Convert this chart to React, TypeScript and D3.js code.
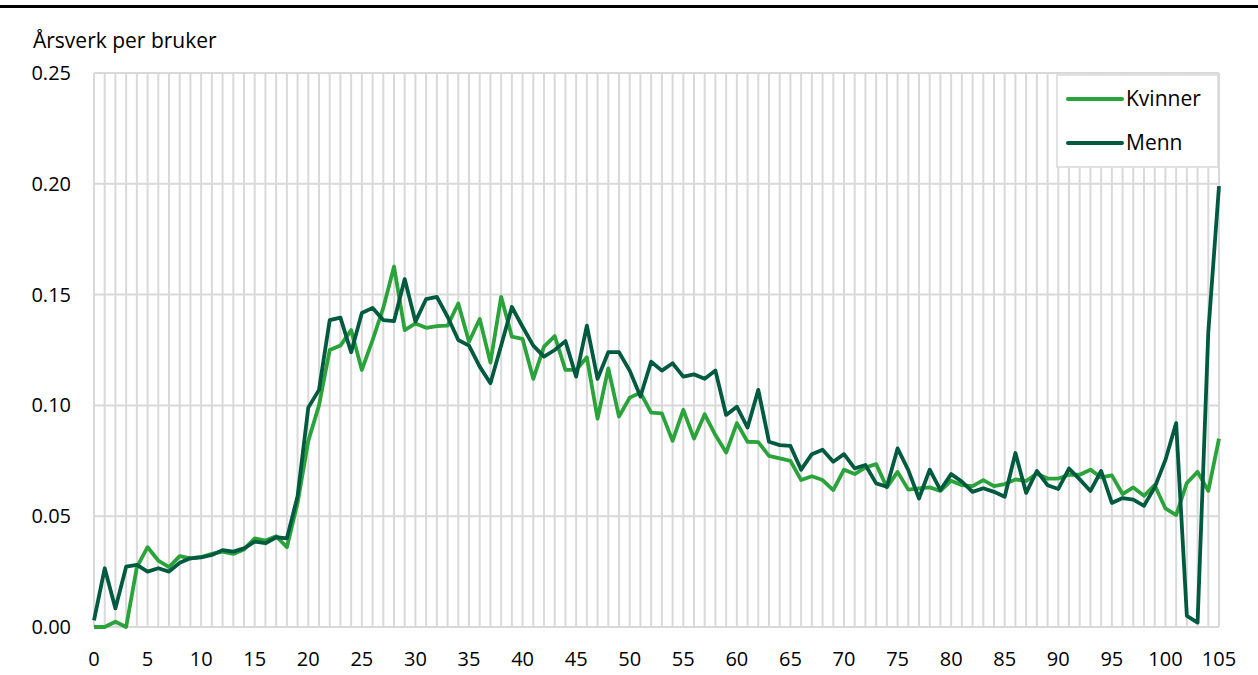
import React, { useEffect, useRef } from 'react';
import * as d3 from 'd3';

// alder 0..105
const ages: number[] = d3.range(0, 106);

const kvinner: number[] = [
    0, 0, 0.0024, 0, 0.027, 0.036, 0.030, 0.027, 0.032, 0.031,
    0.0316, 0.033, 0.034, 0.033, 0.035, 0.040, 0.039, 0.041, 0.036, 0.056,
    0.084, 0.100, 0.125, 0.127, 0.134, 0.116, 0.1295, 0.144, 0.1626, 0.134,
    0.137, 0.135, 0.1358, 0.136, 0.146, 0.1287, 0.139, 0.1193, 0.149, 0.131,
    0.130, 0.112, 0.1265, 0.1313, 0.116, 0.116, 0.1217, 0.094, 0.1167, 0.095,
    0.1035, 0.1057, 0.0967, 0.0964, 0.084, 0.098, 0.085, 0.096, 0.0866, 0.0787,
    0.092, 0.0836, 0.0834, 0.0772, 0.0761, 0.075, 0.0663, 0.068, 0.0663, 0.0618,
    0.071, 0.069, 0.072, 0.0735, 0.063, 0.070, 0.062, 0.0626, 0.063, 0.0614,
    0.066, 0.064, 0.0636, 0.0663, 0.0636, 0.0645, 0.0666, 0.0659, 0.0692, 0.067,
    0.067, 0.0687, 0.0687, 0.071, 0.0675, 0.0684, 0.060, 0.063, 0.0592, 0.064,
    0.0535, 0.0505, 0.065, 0.070, 0.0614, 0.085,
];

const menn: number[] = [
    0.003, 0.0265, 0.0084, 0.0272, 0.028, 0.025, 0.0265, 0.025, 0.029, 0.031,
    0.0314, 0.0325, 0.0347, 0.034, 0.0355, 0.0385, 0.0378, 0.0405, 0.040, 0.059,
    0.099, 0.107, 0.1385, 0.1396, 0.124, 0.1417, 0.144, 0.1385, 0.138, 0.157,
    0.1378, 0.148, 0.149, 0.140, 0.1295, 0.127, 0.1175, 0.110, 0.127, 0.1444,
    0.1355, 0.127, 0.122, 0.125, 0.129, 0.113, 0.136, 0.112, 0.124, 0.124,
    0.1157, 0.104, 0.1197, 0.1157, 0.119, 0.113, 0.114, 0.112, 0.1157, 0.0957,
    0.0994, 0.090, 0.107, 0.0836, 0.0821, 0.0817, 0.071, 0.078, 0.080, 0.0746,
    0.078, 0.0716, 0.0731, 0.0648, 0.0633, 0.0806, 0.0708, 0.058, 0.071, 0.0618,
    0.069, 0.0656, 0.061, 0.0626, 0.061, 0.0588, 0.0785, 0.0605, 0.0704, 0.064,
    0.0623, 0.0715, 0.0666, 0.0614, 0.0704, 0.056, 0.0582, 0.0575, 0.0547, 0.063,
    0.0754, 0.092, 0.005, 0.002, 0.133, 0.199,
];

const seriesNames = ['Kvinner', 'Menn'];
const seriesColors = ['#2ba33b', '#005a3f'];
const yTicks = [0, 0.05, 0.1, 0.15, 0.2, 0.25];
const xTicks = d3.range(0, 106, 5);

const W = 1258;
const H = 675;
const FONT = "'Open Sans', 'Noto Sans', sans-serif";
const FS = '20px';
const FS_BIG = '21px';

const App: React.FC = () => {
    const svgRef = useRef<SVGSVGElement>(null);

    useEffect(() => {
        if (!svgRef.current) return;
        const svg = d3.select(svgRef.current);
        svg.selectAll('*').remove();

        const x = d3.scaleLinear().domain([0, 105]).range([94, 1219]);
        const y = d3.scaleLinear().domain([0, 0.25]).range([627, 73]);

        // topplinje
        svg.append('rect')
            .attr('x', 0)
            .attr('y', 5)
            .attr('width', W)
            .attr('height', 3)
            .attr('fill', '#000');

        // rutenett
        const grid = svg.append('g');
        grid.selectAll('.vg')
            .data(ages)
            .join('line')
            .attr('x1', (d) => x(d))
            .attr('x2', (d) => x(d))
            .attr('y1', y(0.25))
            .attr('y2', y(0))
            .attr('stroke', '#d9d9d9')
            .attr('stroke-width', 2);
        grid.selectAll('.hg')
            .data(yTicks)
            .join('line')
            .attr('x1', x(0))
            .attr('x2', x(105))
            .attr('y1', (d) => y(d))
            .attr('y2', (d) => y(d))
            .attr('stroke', '#d9d9d9')
            .attr('stroke-width', 2);

        // akser
        svg.append('g')
            .selectAll('text')
            .data(yTicks)
            .join('text')
            .attr('x', 71)
            .attr('y', (d) => y(d))
            .attr('dy', '0.35em')
            .attr('text-anchor', 'end')
            .style('font-family', FONT)
            .style('font-size', FS)
            .style('fill', '#000')
            .text((d) => d3.format('.2f')(d));

        svg.append('g')
            .selectAll('text')
            .data(xTicks)
            .join('text')
            .attr('x', (d) => x(d))
            .attr('y', 666)
            .attr('text-anchor', 'middle')
            .style('font-family', FONT)
            .style('font-size', FS)
            .style('fill', '#000')
            .text((d) => String(d));

        svg.append('text')
            .attr('x', 33)
            .attr('y', 48)
            .style('font-family', FONT)
            .style('font-size', FS_BIG)
            .style('fill', '#000')
            .text('Årsverk per bruker');

        // linjer
        const line = d3
            .line<number>()
            .x((_, i) => x(ages[i]))
            .y((d) => y(d));

        [kvinner, menn].forEach((s, i) => {
            svg.append('path')
                .datum(s)
                .attr('d', line)
                .attr('fill', 'none')
                .attr('stroke', seriesColors[i])
                .attr('stroke-width', 3.8)
                .attr('stroke-linejoin', 'round');
        });

        // forklaring
        const lg = svg.append('g').attr('transform', 'translate(1057, 75)');
        lg.append('rect')
            .attr('width', 161)
            .attr('height', 92)
            .attr('fill', '#fff')
            .attr('stroke', '#d9d9d9')
            .attr('stroke-width', 1.5);
        seriesNames.forEach((name, i) => {
            const ly = 24 + i * 44;
            lg.append('line')
                .attr('x1', 11)
                .attr('x2', 65)
                .attr('y1', ly)
                .attr('y2', ly)
                .attr('stroke', seriesColors[i])
                .attr('stroke-width', 4)
                .attr('stroke-linecap', 'round');
            lg.append('text')
                .attr('x', 69)
                .attr('y', ly)
                .attr('dy', '0.35em')
                .style('font-family', FONT)
                .style('font-size', FS_BIG)
                .style('fill', '#000')
                .text(name);
        });
    }, []);

    return (
        <svg
            ref={svgRef}
            width={W}
            height={H}
            style={{ position: 'absolute', left: 0, top: 0, display: 'block', background: '#fff' }}
        />
    );
};

export default App;
